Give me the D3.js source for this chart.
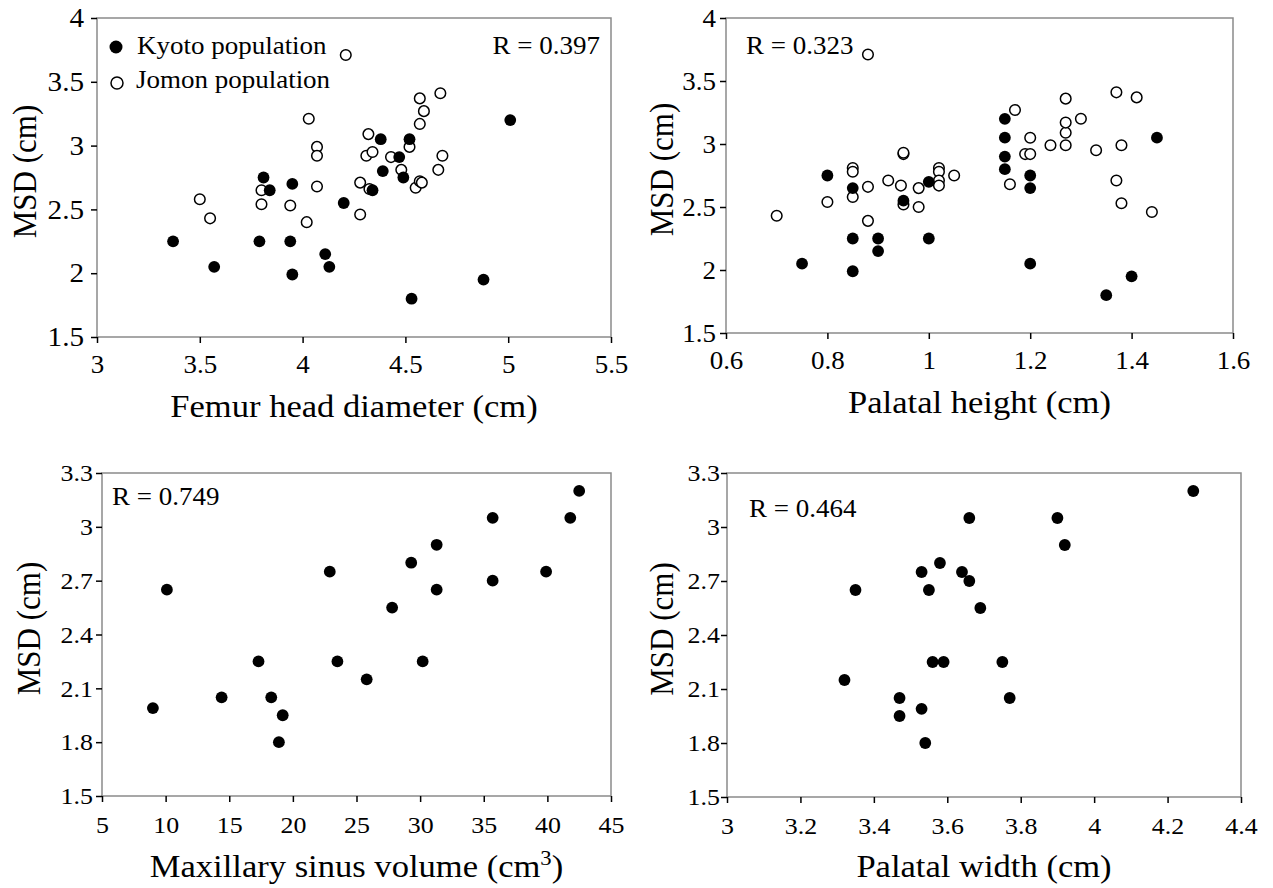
<!DOCTYPE html>
<html>
<head>
<meta charset="utf-8">
<script src="https://cdn.jsdelivr.net/npm/d3@7"></script>
<style>
html,body{margin:0;padding:0;background:#fff;}
svg{display:block;}
svg text{font-family:"Liberation Serif","Times New Roman","DejaVu Serif",serif;}
</style>
</head>
<body>
<svg id="chart" width="1273" height="888"></svg>
<script>
// ---------------- DATA ----------------
// Panel A: femur head diameter (cm) vs MSD (cm)
const femurKyotoX = [3.37,3.57,3.79,3.81,3.84,3.95,3.94,3.95,4.11,4.13,4.20,4.34,4.38,4.39,4.47,4.52,4.49,5.01,4.88,4.53];
const femurKyotoY = [2.25,2.05,2.25,2.75,2.65,2.70,2.25,1.99,2.15,2.05,2.55,2.65,3.05,2.80,2.91,3.05,2.75,3.20,1.95,1.80];
const femurJomonX = [3.50,3.55,3.80,3.80,3.94,4.02,4.03,4.07,4.07,4.07,4.21,4.28,4.28,4.32,4.31,4.34,4.325,4.43,4.48,4.52,4.57,4.59,4.57,4.67,4.68,4.66,4.55,4.57,4.58];
const femurJomonY = [2.58,2.43,2.65,2.54,2.53,2.40,3.21,2.99,2.92,2.68,3.71,2.46,2.71,3.09,2.92,2.95,2.66,2.91,2.81,2.99,3.37,3.27,3.17,3.41,2.92,2.81,2.67,2.72,2.71];

// Panel B: palatal height (cm) vs MSD (cm)
const palHKyotoX = [0.80,0.85,0.85,0.85,0.75,0.90,0.90,0.95,1.00,1.00,1.15,1.15,1.15,1.15,1.20,1.20,1.20,1.45,1.40,1.35];
const palHKyotoY = [2.75,2.65,2.25,1.99,2.05,2.25,2.15,2.55,2.70,2.25,3.20,3.05,2.90,2.80,2.75,2.65,2.05,3.05,1.95,1.80];
const palHJomonX = [0.70,0.80,0.85,0.85,0.85,0.88,0.88,0.88,0.92,0.95,0.95,0.945,0.95,0.98,0.98,1.02,1.02,1.02,1.02,1.05,1.17,1.20,1.19,1.20,1.16,1.24,1.27,1.27,1.27,1.27,1.30,1.33,1.37,1.41,1.38,1.37,1.38,1.44];
const palHJomonY = [2.43,2.54,2.81,2.78,2.58,2.66,3.71,2.39,2.71,2.92,2.93,2.67,2.52,2.65,2.50,2.81,2.78,2.71,2.67,2.75,3.27,3.05,2.92,2.92,2.68,2.99,2.99,3.09,3.17,3.36,3.20,2.95,3.41,3.37,2.99,2.71,2.53,2.46];

// Panel C: maxillary sinus volume (cm3) vs MSD (cm)
const sinusX = [10.1,9.0,14.4,17.3,18.3,19.2,18.9,22.9,23.5,25.8,27.8,29.3,30.2,31.3,31.3,35.7,35.7,39.9,41.8,42.5];
const sinusY = [2.65,1.99,2.05,2.25,2.05,1.95,1.80,2.75,2.25,2.15,2.55,2.80,2.25,2.90,2.65,3.05,2.70,2.75,3.05,3.20];

// Panel D: palatal width (cm) vs MSD (cm)
const palWX = [3.66,3.58,3.53,3.64,3.66,3.55,3.35,3.69,3.56,3.59,3.75,3.32,3.47,3.47,3.53,3.54,3.77,3.90,3.92,4.27];
const palWY = [3.05,2.80,2.75,2.75,2.70,2.65,2.65,2.55,2.25,2.25,2.25,2.15,2.05,1.95,1.99,1.80,2.05,3.05,2.90,3.20];

// Ticks
const ticksAX = [3,3.5,4,4.5,5,5.5];
const ticksAY = [1.5,2,2.5,3,3.5,4];
const ticksBX = [0.6,0.8,1,1.2,1.4,1.6];
const ticksBY = [1.5,2,2.5,3,3.5,4];
const ticksCX = [5,10,15,20,25,30,35,40,45];
const ticksCY = [1.5,1.8,2.1,2.4,2.7,3,3.3];
const ticksDX = [3,3.2,3.4,3.6,3.8,4,4.2,4.4];
const ticksDY = [1.5,1.8,2.1,2.4,2.7,3,3.3];

// Labels
const legendLabels = ["Kyoto population","Jomon population"];
const rLabels = ["R = 0.397","R = 0.323","R = 0.749","R = 0.464"];
const yTitle = "MSD (cm)";

// ---------------- DRAW ----------------
const FONT = "Liberation Serif";
const SX = 1.08;
const svg = d3.select("#chart");

function zip(xs, ys){ return xs.map((x,i)=>({x, y: ys[i]})); }

function panel(cfg){
  const x = d3.scaleLinear().domain(cfg.xd).range([cfg.l, cfg.r]);
  const y = d3.scaleLinear().domain(cfg.yd).range([cfg.b, cfg.t]);
  const g = svg.append("g");

  g.append("rect").attr("x",cfg.l).attr("y",cfg.t).attr("width",cfg.r-cfg.l).attr("height",cfg.b-cfg.t)
    .attr("fill","none").attr("stroke","#8a8a8a").attr("stroke-width",1.5);

  const ax = g.append("g").attr("transform",`translate(0,${cfg.b})`)
    .call(d3.axisBottom(x).tickValues(cfg.xt).tickFormat(d=>String(d)).tickSize(6).tickSizeOuter(0).tickPadding(cfg.xpad));
  const ay = g.append("g").attr("transform",`translate(${cfg.l},0)`)
    .call(d3.axisLeft(y).tickValues(cfg.yt).tickFormat(d=>String(d)).tickSize(6).tickSizeOuter(0).tickPadding(cfg.ypad));
  [[ax,cfg.xfs],[ay,cfg.yfs]].forEach(([a,fs])=>{
    a.attr("font-family",null).attr("font-size",null);
    a.select(".domain").remove();
    a.selectAll(".tick line").attr("stroke","#000").attr("stroke-width",1.5);
    a.selectAll(".tick text").style("font-family",FONT).style("font-size",fs+"px").attr("fill","#000")
      .each(function(){
        const t=d3.select(this); const xx=+t.attr("x")||0;
        t.attr("x",0).attr("transform",`translate(${xx},0) scale(${SX},1)`);
      });
  });

  const xt = g.append("text").style("font-family",FONT).style("font-size","32px").attr("text-anchor","middle")
    .attr("transform",`translate(${(cfg.l+cfg.r)/2},${cfg.b+cfg.xtitleOff}) scale(${SX},1)`);
  if (cfg.xtitleSup){
    xt.append("tspan").text(cfg.xtitle);
    xt.append("tspan").style("font-size","21px").attr("dy",-12).text(cfg.xtitleSup);
    xt.append("tspan").attr("dy",12).text(")");
  } else xt.text(cfg.xtitle);

  g.append("text").style("font-family",FONT).style("font-size","31px").attr("text-anchor","middle")
    .attr("transform",`translate(${cfg.ytx},${(cfg.t+cfg.b)/2-6}) scale(${SX},1) rotate(-90)`)
    .text(yTitle);

  g.append("text").style("font-family",FONT).style("font-size","25px").attr("text-anchor",cfg.rAnchor)
    .attr("transform",`translate(${cfg.rx},${cfg.ry}) scale(${SX},1)`).text(cfg.rText);

  if (cfg.open){
    g.append("g").selectAll("circle").data(cfg.open).join("circle")
      .attr("cx",d=>x(d.x)).attr("cy",d=>y(d.y)).attr("r",5.3)
      .attr("fill","#fff").attr("stroke","#000").attr("stroke-width",1.5);
  }
  g.append("g").selectAll("circle").data(cfg.filled).join("circle")
    .attr("cx",d=>x(d.x)).attr("cy",d=>y(d.y)).attr("r",5.9).attr("fill","#000");
  return {x,y,g};
}

panel({l:97,r:611,t:18,b:337,xd:[3,5.5],yd:[1.5,4],xt:ticksAX,yt:ticksAY,xpad:12,ypad:7,xfs:25,yfs:27,
  xtitle:"Femur head diameter (cm)",xtitleOff:80,ytx:36,rText:rLabels[0],rAnchor:"end",rx:600,ry:54,
  filled:zip(femurKyotoX,femurKyotoY),open:zip(femurJomonX,femurJomonY)});
panel({l:726,r:1233,t:18,b:333,xd:[0.6,1.6],yd:[1.5,4],xt:ticksBX,yt:ticksBY,xpad:12,ypad:4,xfs:25,yfs:25,
  xtitle:"Palatal height (cm)",xtitleOff:80,ytx:673,rText:rLabels[1],rAnchor:"start",rx:746,ry:54,
  filled:zip(palHKyotoX,palHKyotoY),open:zip(palHJomonX,palHJomonY)});
panel({l:102,r:611,t:473,b:796,xd:[5,45],yd:[1.5,3.3],xt:ticksCX,yt:ticksCY,xpad:14,ypad:3,xfs:24,yfs:24,
  xtitle:"Maxillary sinus volume (cm",xtitleSup:"3",xtitleOff:81,ytx:40,rText:rLabels[2],rAnchor:"start",rx:112,ry:505,
  filled:zip(sinusX,sinusY)});
panel({l:727,r:1241,t:473,b:797,xd:[3,4.4],yd:[1.5,3.3],xt:ticksDX,yt:ticksDY,xpad:14,ypad:1,xfs:24,yfs:24,
  xtitle:"Palatal width (cm)",xtitleOff:80,ytx:673,rText:rLabels[3],rAnchor:"start",rx:749,ry:517,
  filled:zip(palWX,palWY)});

// Legend (panel A)
const leg = svg.append("g");
leg.append("circle").attr("cx",116).attr("cy",47).attr("r",6.5).attr("fill","#000");
leg.append("circle").attr("cx",117).attr("cy",83).attr("r",6).attr("fill","#fff").attr("stroke","#000").attr("stroke-width",1.5);
leg.append("text").style("font-family",FONT).style("font-size","25px")
  .attr("transform",`translate(137,54) scale(${SX},1)`).text(legendLabels[0]);
leg.append("text").style("font-family",FONT).style("font-size","25px")
  .attr("transform",`translate(136,88) scale(${SX},1)`).text(legendLabels[1]);
</script>
</body>
</html>
